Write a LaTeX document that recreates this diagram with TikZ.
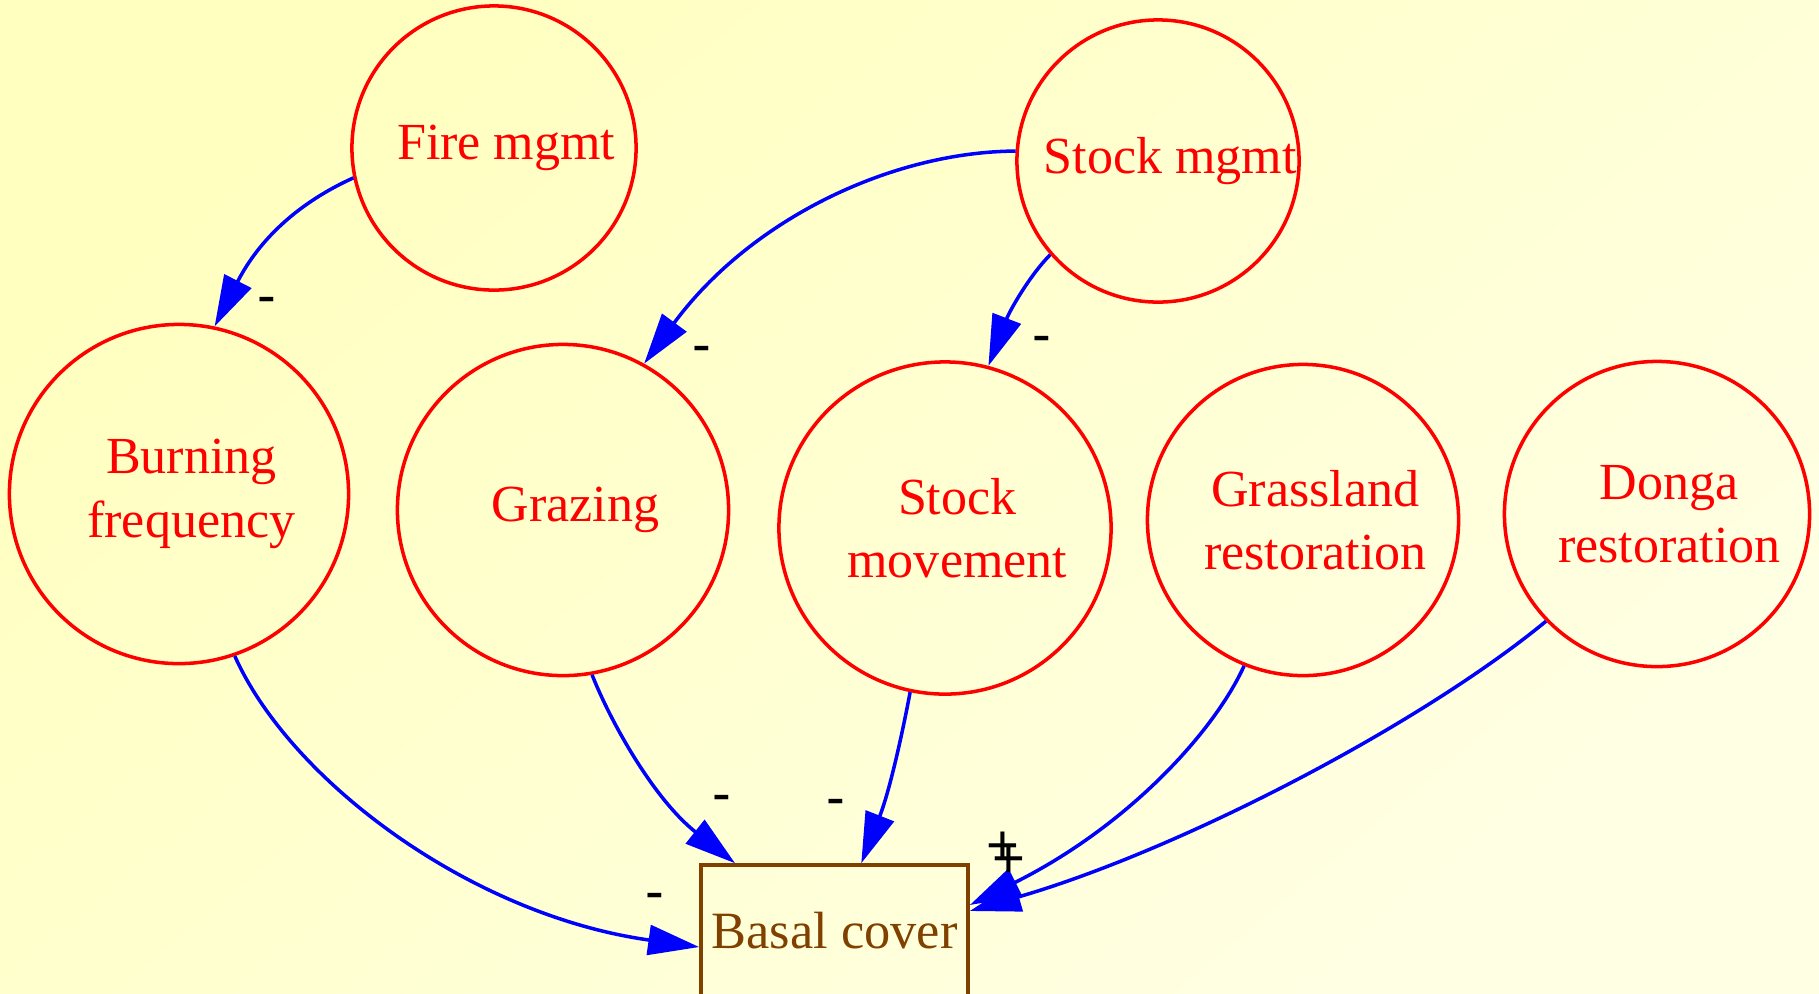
\documentclass[tikz,border=0pt]{standalone}
\usepackage{fontspec}
\setmainfont{Liberation Serif}
\newfontfamily\lblsans{Liberation Sans}
\usetikzlibrary{arrows.meta}
\definecolor{bgA}{RGB}{255,255,192}
\definecolor{bgB}{RGB}{255,255,228}
\definecolor{brn}{RGB}{128,64,0}
\newcommand\txs{\hspace*{7pt}}
\begin{document}
\begin{tikzpicture}[x=0.01cm,y=-0.01cm,
  circ/.style={circle, draw=red, line width=1pt, text=red,
    font=\fontsize{14.8}{18}\selectfont, align=center, inner sep=0pt},
  boxn/.style={rectangle, draw=brn, line width=1pt, text=brn,
    font=\fontsize{14.9}{18}\selectfont, minimum width=2.67cm, minimum height=1.32cm, inner sep=0pt},
  conn/.style={draw=blue, line width=1pt, -{Triangle[length=14.5pt,width=8.5pt]}},
  lbl/.style={font=\lblsans\fontsize{16}{18}\selectfont, inner sep=0pt, text=black}]
\useasboundingbox (0,0) rectangle (1819,993);
\clip (0,0) rectangle (1819,993);
\shade[top color=bgA, bottom color=bgB, shading angle=40] (0,0) rectangle (1819,993);

\node[circ, minimum size=2.84cm] (fire)   at (494,148)  {\txs Fire mgmt};
\node[circ, minimum size=2.82cm] (stockm) at (1158,161) {\txs Stock mgmt};
\node[circ, minimum size=3.39cm] (burn)   at (179,494)  {\txs Burning\\\txs frequency};
\node[circ, minimum size=3.31cm] (graz)   at (563,510)  {\txs Grazing};
\node[circ, minimum size=3.32cm] (smov)   at (945,528)  {\txs Stock\\\txs movement};
\node[circ, minimum size=3.11cm] (grass)  at (1303,520) {\txs Grassland\\\txs restoration};
\node[circ, minimum size=3.05cm] (donga)  at (1657,514) {\txs Donga\\\txs restoration};
\node[boxn] (basal) at (834.5,931) {Basal cover};

\draw[conn] (fire.192) .. controls (300,202) and (260,238) .. (burn.78.5);
\draw[conn] (stockm.176) .. controls (890,152) and (750,220) .. (graz.61.7);
\draw[conn] (stockm.221) .. controls (1030,275) and (1010,310) .. (smov.75.5);
\draw[conn] (burn.289) .. controls (290,780) and (470,915) .. ([yshift=-4.55pt]basal.west);
\draw[conn] (graz.280.6) .. controls (612,725) and (655,800) .. ([xshift=10.2pt]basal.north west);
\draw[conn] (smov.258.8) .. controls (903,730) and (890,790) .. ([xshift=46.1pt]basal.north west);
\draw[conn] (grass.248.5) .. controls (1215,730) and (1130,825) .. ([yshift=7.4pt]basal.east);
\draw[conn] (donga.224) .. controls (1420,725) and (1180,850) .. ([yshift=5.7pt]basal.east);

\node[lbl] (l1) at (267,306) {-};
\node[lbl] (l2) at (702,355) {-};
\node[lbl] (l3) at (1042,345) {-};
\node[lbl] (l4) at (722,804) {-};
\node[lbl] (l5) at (836,808) {-};
\node[lbl] (l6) at (655,902) {-};
\node[lbl] (l7) at (1003,848) {+};
\node[lbl] (l8) at (1009,861) {+};
\end{tikzpicture}
\end{document}
